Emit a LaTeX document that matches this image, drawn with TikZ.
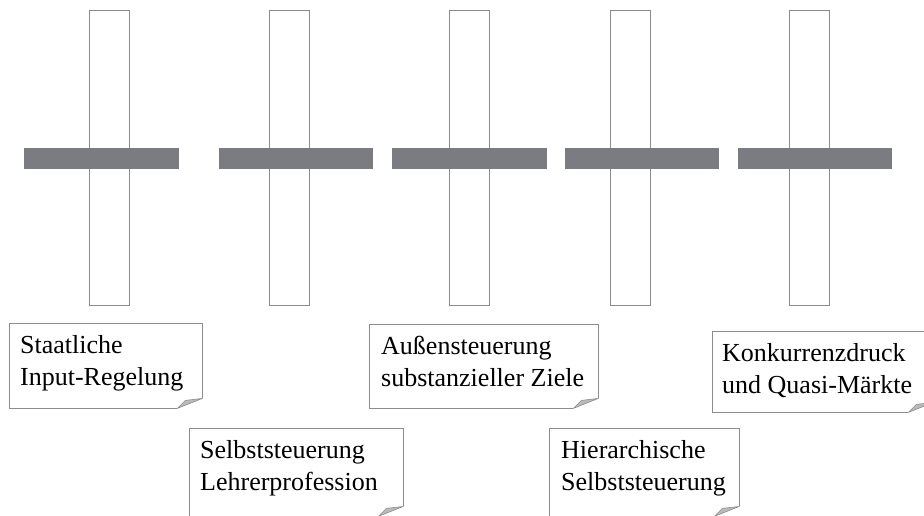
\documentclass[tikz,border=0pt]{standalone}
\usepackage{fontspec}
\setmainfont{Liberation Serif}
\usepackage{tikz}
\usetikzlibrary{positioning}
\definecolor{bargrey}{HTML}{7B7C81}
\definecolor{linegrey}{HTML}{8C8C8C}
\definecolor{foldgrey}{HTML}{BABABA}
\newcommand{\notefont}{\fontsize{26}{32}\selectfont}
% outline of a note with a curled lower right corner
\newcommand{\foldnote}[1]{%
  \draw[noteline] ([xshift=-25pt]#1.south east) -- (#1.south west)
    -- (#1.north west) -- (#1.north east) -- ([yshift=10pt]#1.south east);
  \filldraw[curl] ([xshift=-25pt]#1.south east) -- ([xshift=-17pt,yshift=8pt]#1.south east)
    -- ([yshift=10pt]#1.south east) -- cycle;
}

\begin{document}
\begin{tikzpicture}[x=1pt, y=-1pt,
    pole/.style={draw=linegrey, line width=0.9pt, fill=white},
    beam/.style={fill=bargrey},
    notebox/.style={anchor=north west, inner sep=0pt},
    notetext/.style={anchor=north west, inner sep=0pt, align=left, font=\notefont},
    noteline/.style={draw=linegrey, line width=0.9pt},
    curl/.style={fill=foldgrey, draw=linegrey, line width=0.6pt, line join=round}]
  \useasboundingbox (0,0) rectangle (924,516);

  % poles and cross beams
  \foreach \px/\bx/\bw in {89/24/155, 269/219/154, 449/392/155, 610/565/154, 789/738/154} {
    \draw[pole] (\px,10) rectangle ++(40,295);
    \fill[beam] (\bx,148) rectangle ++(\bw,21);
  }

  % notes
  \node[notebox, minimum width=193pt, minimum height=85pt] (n1) at (9,323) {};
  \node[notebox, minimum width=214pt, minimum height=88pt] (n2) at (189,428) {};
  \node[notebox, minimum width=229pt, minimum height=84pt] (n3) at (369,324) {};
  \node[notebox, minimum width=190pt, minimum height=88pt] (n4) at (549,428) {};
  \node[notebox, minimum width=221pt, minimum height=81pt] (n5) at (712,331) {};

  \foldnote{n1}
  \foldnote{n2}
  \foldnote{n3}
  \foldnote{n4}
  \foldnote{n5}

  \node[notetext] (t1) at ([xshift=11pt,yshift=-12pt]n1.north west) {Staatliche\\Input-Regelung};
  \node[notetext] (t2) at ([xshift=11pt,yshift=-12pt]n2.north west) {Selbststeuerung\\Lehrerprofession};
  \node[notetext] (t3) at ([xshift=12pt,yshift=-12pt]n3.north west) {Außensteuerung\\substanzieller Ziele};
  \node[notetext] (t4) at ([xshift=12pt,yshift=-12pt]n4.north west) {Hierarchische\\Selbststeuerung};
  \node[notetext] (t5) at ([xshift=10pt,yshift=-12pt]n5.north west) {Konkurrenzdruck\\und Quasi-Märkte};
\end{tikzpicture}
\end{document}
